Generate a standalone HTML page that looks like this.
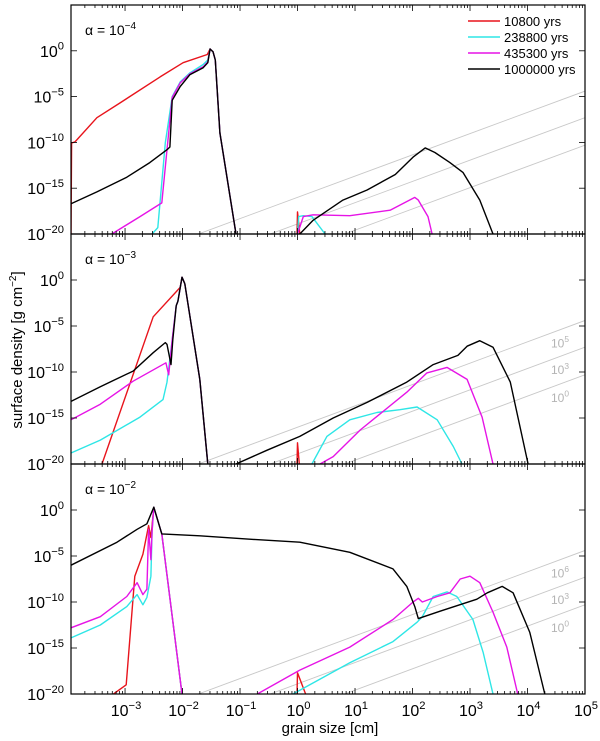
<!DOCTYPE html>
<html><head><meta charset="utf-8"><style>
body{margin:0;background:#fff;width:600px;height:741px;overflow:hidden}
svg{display:block;font-family:"Liberation Sans",sans-serif}
</style></head><body>
<svg id="chart" width="600" height="741" viewBox="0 0 600 741" xmlns="http://www.w3.org/2000/svg"></svg>
<script>
// ---- data (log10 grain size [cm], log10 surface density) ----
const seriesNames = ["10800 yrs","238800 yrs","435300 yrs","1000000 yrs"];
const seriesColors = ["#e8141c","#2ee6e6","#e614e6","#000000"];
const panelLabels = ["-4","-3","-2"];
const xTickExps = [-3,-2,-1,0,1,2,3,4,5];
const yTickExps = [0,-5,-10,-15,-20];
const refLineOffsets = [-4.4,-7.3,-10.3];
const refLineSlope = 2.32;
const refLabels2 = ["5","3","0"];
const refLabels3 = ["6","3","0"];

// panel 1 (alpha=1e-4)
const p1RedX = [-3.94,-3.93,-3.87,-3.49,-3.09,-2.39,-1.99,-1.57,-1.52,-1.47,-1.43,-1.35,-1.07];
const p1RedY = [-20,-10.05,-9.95,-7.3,-5.7,-2.85,-1.3,-0.4,0.2,-0.1,-1.0,-8.96,-20];
const p1RedSpikeX = [-0.01,0.0,0.04];
const p1RedSpikeY = [-20,-17.6,-20];
const p1CyanX = [-2.53,-2.43,-2.30,-2.18,-2.04,-1.87,-1.64,-1.56,-1.52,-1.47,-1.43,-1.35,-1.07];
const p1CyanY = [-20,-19.3,-10.05,-5.0,-3.4,-2.4,-1.5,-1.0,0.2,-0.1,-1.0,-8.96,-20];
const p1CyanRX = [0.0,0.02,0.1,0.25,0.48];
const p1CyanRY = [-20,-18.1,-18.0,-18.1,-20];
const p1MagX = [-3.23,-2.74,-2.36,-2.27,-2.18,-2.04,-1.87,-1.64,-1.56,-1.52,-1.47,-1.43,-1.35,-1.07];
const p1MagY = [-20,-18.1,-16.6,-10.8,-5.1,-3.5,-2.5,-1.75,-1.2,0.2,-0.1,-1.0,-8.96,-20];
const p1MagRX = [0.0,0.10,0.27,0.91,1.61,2.04,2.10,2.27,2.34];
const p1MagRY = [-20,-18.1,-17.9,-18.0,-17.4,-16.0,-16.3,-18.1,-20];
const p1BlkX = [-3.94,-3.49,-2.97,-2.57,-2.27,-2.22,-2.18,-2.04,-1.87,-1.64,-1.56,-1.52,-1.47,-1.43,-1.35,-1.07];
const p1BlkY = [-16.7,-15.4,-13.8,-12.2,-10.8,-10.5,-5.4,-3.9,-2.6,-1.85,-1.3,0.2,-0.1,-1.0,-8.96,-20];
const p1BlkRX = [0.04,0.27,0.79,1.21,1.70,2.01,2.22,2.39,2.65,2.88,3.17,3.40];
const p1BlkRY = [-20,-18.5,-16.3,-15.2,-13.5,-11.6,-10.6,-11.1,-12.2,-13.3,-16.3,-20];

// panel 2 (alpha=1e-3)
const p2RedX = [-3.40,-2.51,-2.04,-2.01,-1.96,-1.70,-1.56];
const p2RedY = [-20,-4.0,-0.8,0.3,-0.4,-10.8,-20];
const p2RedSpikeX = [-0.01,0.0,0.03];
const p2RedSpikeY = [-20,-17.7,-20];
const p2CyanX = [-3.94,-3.43,-2.74,-2.34,-2.27,-2.18,-2.11,-2.08,-2.01,-1.96,-1.70,-1.56];
const p2CyanY = [-18.8,-17.4,-14.9,-13.0,-11.1,-6.5,-2.8,-2.3,0.3,-0.4,-10.8,-20];
const p2CyanRX = [0.25,0.51,0.91,1.38,1.78,2.08,2.43,2.71,2.86];
const p2CyanRY = [-20,-17.0,-15.2,-14.4,-14.1,-13.8,-15.2,-18.1,-20];
const p2MagX = [-3.94,-3.43,-2.86,-2.29,-2.24,-2.18,-2.11,-2.08,-2.01,-1.96,-1.70,-1.56];
const p2MagY = [-15.2,-13.5,-11.0,-9.0,-10.3,-6.5,-2.8,-2.3,0.3,-0.4,-10.8,-20];
const p2MagRX = [0.39,0.62,1.09,1.90,2.25,2.60,2.95,3.21,3.40];
const p2MagRY = [-20,-19.2,-16.3,-12.2,-10.1,-9.5,-10.8,-14.9,-20];
const p2BlkX = [-3.94,-3.43,-2.86,-2.51,-2.30,-2.27,-2.20,-2.17,-2.11,-2.08,-2.01,-1.96,-1.70,-1.56];
const p2BlkY = [-13.2,-11.6,-9.9,-7.9,-6.8,-7.0,-9.2,-6.5,-2.8,-2.3,0.3,-0.4,-10.8,-20];
const p2BlkRX = [-1.07,-0.53,0.04,0.62,1.21,1.90,2.36,2.79,2.95,3.17,3.40,3.70,4.01];
const p2BlkRY = [-20,-18.5,-17.0,-15.0,-13.3,-11.1,-9.2,-8.2,-7.2,-6.6,-7.3,-11.1,-20];

// panel 3 (alpha=1e-2)
const p3RedX = [-3.20,-2.98,-2.83,-2.69,-2.59,-2.55,-2.50,-2.36,-2.01];
const p3RedY = [-20,-19.0,-7.2,-4.8,-1.7,-3.0,0.3,-2.6,-20];
const p3RedSpikeX = [-0.01,0.0,0.14];
const p3RedSpikeY = [-20,-17.7,-20];
const p3CyanX = [-3.94,-3.43,-2.97,-2.79,-2.69,-2.62,-2.55,-2.53,-2.50,-2.36,-2.01];
const p3CyanY = [-13.9,-12.5,-10.5,-9.2,-10.3,-9.5,-7.2,-2.3,0.3,-2.6,-20];
const p3CyanRX = [-0.08,0.04,0.91,1.66,2.08,2.17,2.36,2.60,2.77,3.05,3.23,3.40];
const p3CyanRY = [-20,-19.6,-16.6,-14.3,-12.2,-11.6,-9.4,-8.9,-9.4,-11.9,-15.5,-20];
const p3MagX = [-3.94,-3.43,-2.97,-2.79,-2.69,-2.62,-2.59,-2.55,-2.53,-2.50,-2.36,-2.01];
const p3MagY = [-12.8,-11.6,-9.4,-7.9,-9.2,-8.6,-2.1,-5.4,-2.3,0.3,-2.6,-20];
const p3MagRX = [-0.70,0.04,0.91,1.66,2.01,2.10,2.17,2.43,2.65,2.83,3.00,3.17,3.40,3.64,3.83];
const p3MagRY = [-20,-17.4,-14.9,-11.9,-10.0,-9.6,-10.0,-9.4,-9.0,-7.5,-7.2,-7.9,-11.1,-14.9,-20];
const p3BlkX = [-3.94,-3.14,-2.79,-2.62,-2.50,-2.36,-1.70,-0.77,0.04,0.91,1.66,1.90,2.04,2.10,2.48,3.12,3.30,3.56,3.75,4.04,4.30];
const p3BlkY = [-6.0,-3.5,-2.1,-1.5,0.3,-2.6,-2.8,-3.2,-3.5,-4.6,-6.4,-8.3,-10.5,-11.8,-11.0,-9.7,-9.0,-8.3,-9.0,-13.3,-20];

const panels = [
 {top:5,bottom:234,label:panelLabels[0],series:[
  [p1RedX,p1RedY,0],[p1RedSpikeX,p1RedSpikeY,0],[p1CyanX,p1CyanY,1],[p1CyanRX,p1CyanRY,1],
  [p1MagX,p1MagY,2],[p1MagRX,p1MagRY,2],[p1BlkX,p1BlkY,3],[p1BlkRX,p1BlkRY,3]],refLabels:null},
 {top:234,bottom:464,label:panelLabels[1],series:[
  [p2RedX,p2RedY,0],[p2RedSpikeX,p2RedSpikeY,0],[p2CyanX,p2CyanY,1],[p2CyanRX,p2CyanRY,1],
  [p2MagX,p2MagY,2],[p2MagRX,p2MagRY,2],[p2BlkX,p2BlkY,3],[p2BlkRX,p2BlkRY,3]],refLabels:refLabels2},
 {top:464,bottom:694,label:panelLabels[2],series:[
  [p3RedX,p3RedY,0],[p3RedSpikeX,p3RedSpikeY,0],[p3CyanX,p3CyanY,1],[p3CyanRX,p3CyanRY,1],
  [p3MagX,p3MagY,2],[p3MagRX,p3MagRY,2],[p3BlkX,p3BlkY,3]],refLabels:refLabels3}
];

const NS="http://www.w3.org/2000/svg";
const svg=document.getElementById('chart');
const L=71,R=585,XMIN=-3.94,XMAX=5,YMIN=-20,YMAX=5;
function sx(v){return L+(v-XMIN)/(XMAX-XMIN)*(R-L);}
function mk(tag,attrs,parent){const e=document.createElementNS(NS,tag);for(const k in attrs)e.setAttribute(k,attrs[k]);(parent||svg).appendChild(e);return e;}
function pow(g,x,y,base,exp,size,anchor,fill){
  const t=mk('text',{x:x,y:y,'font-size':size,'text-anchor':anchor,fill:fill||'#000'},g);
  const a=document.createElementNS(NS,'tspan');a.textContent=base;t.appendChild(a);
  const b=document.createElementNS(NS,'tspan');b.setAttribute('dy',-size*0.45);b.setAttribute('font-size',size*0.7);b.textContent=exp.replace('-','\u2212');t.appendChild(b);
  return t;
}

panels.forEach((p,pi)=>{
  const H=p.bottom-p.top;
  const sy=v=>p.bottom-(v-YMIN)/(YMAX-YMIN)*H;
  const g=mk('g',{});
  
  
  const cid='clip'+pi;
  const cp=mk('clipPath',{id:cid},g);mk('rect',{x:L,y:p.top,width:R-L,height:H},cp);
  const plot=mk('g',{'clip-path':'url(#'+cid+')'},g);
  refLineOffsets.forEach((o,i)=>{
    const x0=XMIN,x1=XMAX;
    const ln=mk('line',{x1:sx(x0),y1:sy(o+refLineSlope*(x0-XMAX)),x2:sx(x1),y2:sy(o),stroke:'#c8c8c8','stroke-width':0.9},plot);
    
    
  });
  if(p.refLabels){
    p.refLabels.forEach((lab,i)=>{
      const t=pow(g,551,sy(refLineOffsets[i])+27,'10',lab,12,'start','#b4b4b4');
      
      
    });
  }
  p.series.forEach(s=>{
    const [xs,ys,ci]=s;
    const d=xs.map((x,i)=>(i?'L':'M')+sx(x).toFixed(1)+','+sy(ys[i]).toFixed(1)).join('');
    const path=mk('path',{d:d,fill:'none',stroke:seriesColors[ci],'stroke-width':1.4,'stroke-linejoin':'round'},plot);
    
    
  });
  const fr=mk('rect',{x:L,y:p.top,width:R-L,height:H,fill:'none',stroke:'#000','stroke-width':1.2},g);
  
  
  for(let e=-4;e<5;e++){for(let m=1;m<10;m++){
    const v=e+Math.log10(m);if(v<XMIN||v>XMAX)continue;
    const len=m===1?6:3;const x=sx(v);
    mk('line',{x1:x,y1:p.bottom,x2:x,y2:p.bottom-len,stroke:'#000','stroke-width':0.8},g);
    mk('line',{x1:x,y1:p.top,x2:x,y2:p.top+len,stroke:'#000','stroke-width':0.8},g);
  }}
  mk('line',{x1:sx(5),y1:p.bottom,x2:sx(5),y2:p.bottom-6,stroke:'#000','stroke-width':0.8},g);
  yTickExps.forEach(e=>{
    const y=sy(e);
    mk('line',{x1:L,y1:y,x2:L+6,y2:y,stroke:'#000','stroke-width':0.8},g);
    mk('line',{x1:R,y1:y,x2:R-6,y2:y,stroke:'#000','stroke-width':0.8},g);
    const t=pow(g,64,y+6,'10',String(e),16,'end');
    
    
  });
  const al=mk('text',{x:85,y:p.top+30,'font-size':14},g);
  
  
  const a1=document.createElementNS(NS,'tspan');a1.textContent='\u03b1 = 10';al.appendChild(a1);
  const a2=document.createElementNS(NS,'tspan');a2.setAttribute('dy',-6);a2.setAttribute('font-size',10);a2.textContent=p.label.replace('-','\u2212');al.appendChild(a2);
});
xTickExps.forEach(e=>{
  const t=pow(svg,sx(e)+1,716,'10',String(e),16,'middle');
  
  
});
const xt=mk('text',{x:330,y:733,'font-size':15,'text-anchor':'middle'});xt.textContent='grain size [cm]';


const yt=mk('text',{x:0,y:0,'font-size':15,'text-anchor':'middle',transform:'translate(22,350) rotate(-90)'});


const y1=document.createElementNS(NS,'tspan');y1.textContent='surface density [g cm';yt.appendChild(y1);
const y2=document.createElementNS(NS,'tspan');y2.setAttribute('dy',-6);y2.setAttribute('font-size',10);y2.textContent='\u22122';yt.appendChild(y2);
const y3=document.createElementNS(NS,'tspan');y3.setAttribute('dy',6);y3.textContent=']';yt.appendChild(y3);
const lg=mk('g',{});


seriesNames.forEach((n,i)=>{
  const y=21+i*16;
  const ln=mk('line',{x1:468,y1:y,x2:500,y2:y,stroke:seriesColors[i],'stroke-width':1.4},lg);
  
  
  const t=mk('text',{x:504,y:y+5,'font-size':13},lg);t.textContent=n;
  
  
});
</script>
</body></html>
